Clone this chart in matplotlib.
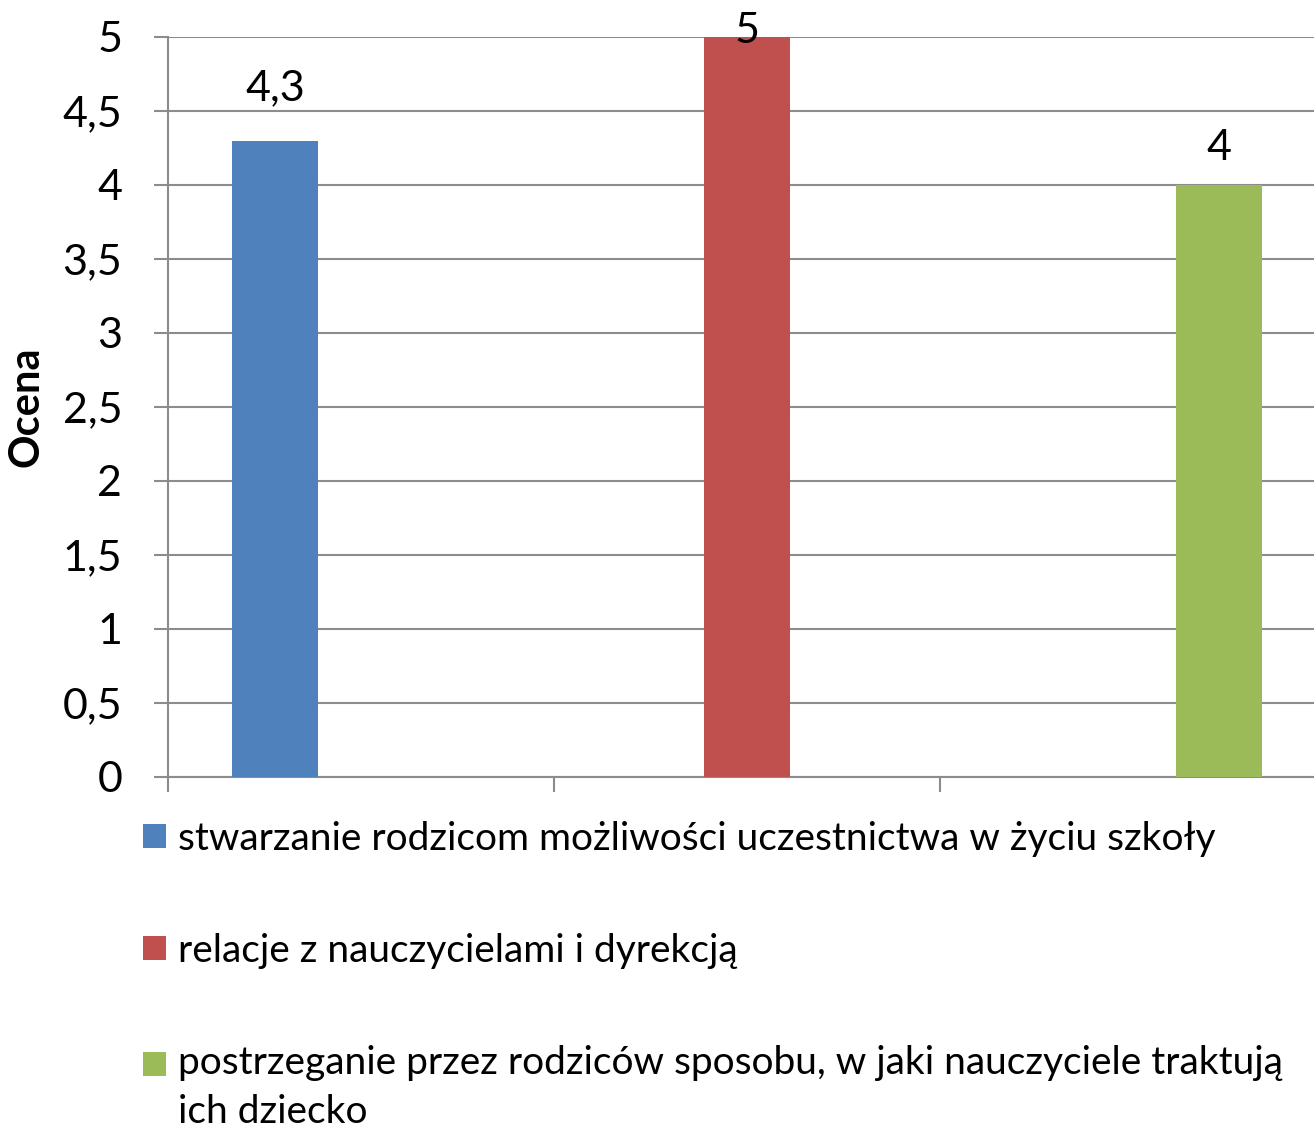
import matplotlib
matplotlib.use("Agg")
import matplotlib.pyplot as plt
from matplotlib.ticker import MultipleLocator, FuncFormatter

# ---- data ----
series_names = [
    "stwarzanie rodzicom możliwości uczestnictwa w życiu szkoły",
    "relacje z nauczycielami i dyrekcją",
    "postrzeganie przez rodziców sposobu, w jaki nauczyciele traktują\nich dziecko",
]
values = [4.3, 5, 4]
value_labels = ["4,3", "5", "4"]
y_label = "Ocena"

# ---- style ----
colors = ["#4F81BD", "#C0504D", "#9BBB59"]
label_offsets_px = [40, -6, 25]
grid_color = "#8C8C8C"
FONT = "Lato"
W, H, DPI = 1314, 1129, 100

plt.rcParams["font.family"] = [FONT, "DejaVu Sans"]

fig = plt.figure(figsize=(W / DPI, H / DPI), dpi=DPI)
ax = fig.add_axes([168 / W, 1 - 777 / H, 1158 / W, 740 / H])

n = len(values)
bar_w = 0.2228
handles = []
for i, (v, name, c) in enumerate(zip(values, series_names, colors)):
    x = i + 0.5 + (i - 1) * bar_w
    b = ax.bar(x, v, width=bar_w, color=c, label=name, zorder=3)
    handles.append(b)
    ax.annotate(value_labels[i], (x, v), xytext=(0, label_offsets_px[i] * 72 / DPI),
                textcoords="offset points", ha="center", va="baseline",
                fontsize=31, color="black", zorder=4)

ax.set_xlim(0, n)
ax.set_ylim(0, 5)
ax.yaxis.set_major_locator(MultipleLocator(0.5))
ax.yaxis.set_major_formatter(FuncFormatter(lambda v, p: (f"{v:g}").replace(".", ",")))
ax.set_xticks(range(n + 1))
ax.set_xticklabels([])

ax.grid(axis="y", color=grid_color, linewidth=1.5, zorder=0)
for s in ["top", "right"]:
    ax.spines[s].set_visible(False)
for s in ["left", "bottom"]:
    ax.spines[s].set_color(grid_color)
    ax.spines[s].set_linewidth(1.5)

ax.tick_params(axis="y", direction="out", length=10, width=1.5, color=grid_color,
               pad=23, labelsize=31)
ax.tick_params(axis="x", direction="out", length=11, width=1.5, color=grid_color)

ax.set_ylabel(y_label, fontsize=30, fontweight="bold")
ax.yaxis.set_label_coords((45 - 168) / 1158, 0.5)

fs = 28
line_pitch_pt = 1.26 * fs
leg = fig.legend(handles=handles, labels=series_names, loc="upper left",
                 bbox_to_anchor=(143 / W, 1 - 821 / H), frameon=False,
                 borderaxespad=0, borderpad=0, fontsize=fs,
                 handlelength=0.58, handleheight=0.58, handletextpad=0.32,
                 labelspacing=1.955)
for t, h in zip(leg.get_texts(), leg.legend_handles):
    t.set_linespacing(1.45)
    nlines = t.get_text().count("\n") + 1
    if nlines > 1:
        # align the swatch with the first line of a wrapped label (Excel style)
        h.set_y(h.get_y() + 0.5 * (nlines - 1) * line_pitch_pt)

fig.savefig("out.png", dpi=DPI)
